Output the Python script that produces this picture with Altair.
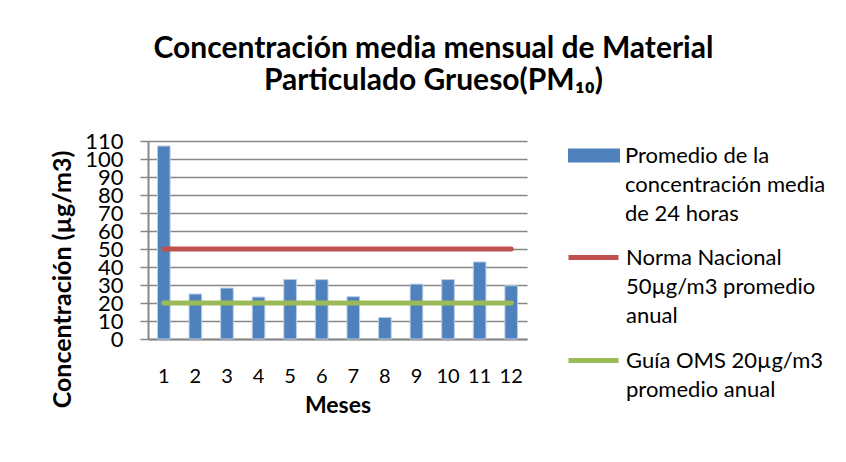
import altair as alt
import pandas as pd

months = ["1", "2", "3", "4", "5", "6", "7", "8", "9", "10", "11", "12"]
promedio = [107.2, 25.0, 28.3, 23.3, 33.1, 33.0, 23.5, 12.0, 30.5, 33.0, 42.8, 29.6]
norma = [50, 50, 50, 50, 50, 50, 50, 50, 50, 50, 50, 50]
guia = [20, 20, 20, 20, 20, 20, 20, 20, 20, 20, 20, 20]
y_ticks = [0, 10, 20, 30, 40, 50, 60, 70, 80, 90, 100, 110]

# legend label lines (one legend row per text line)
bar_lines = ["Promedio de la", "concentración media", "de 24  horas"]
norma_lines = ["Norma Nacional", "50µg/m3 promedio", "anual"]
guia_lines = ["Guía OMS 20µg/m3", "promedio anual"]

BLUE, RED, GREEN = "#4F81BD", "#C0504D", "#9BBB59"
NONE = "rgba(0,0,0,0)"

bars_df = pd.DataFrame({"mes": months, "valor": promedio, "serie": bar_lines[0]})
norma_df = pd.DataFrame({"mes": months, "valor": norma, "serie": norma_lines[0]})
guia_df = pd.DataFrame({"mes": months, "valor": guia, "serie": guia_lines[0]})

FONT = "Lato"
GRID = "#878787"

x_enc = alt.X(
    "mes:O", sort=months,
    scale=alt.Scale(paddingInner=0.6, paddingOuter=0.3),
    axis=alt.Axis(
        title="Meses", labelAngle=0, labelFont=FONT, labelFontSize=20, labelColor="black",
        labelPadding=27, ticks=False, domainColor=GRID, domainWidth=2,
        titleFont=FONT, titleFontSize=23, titleFontWeight="bold", titleColor="black",
        titlePadding=8,
    ),
)
y_enc = alt.Y(
    "valor:Q",
    scale=alt.Scale(domain=[0, 110], nice=False),
    axis=alt.Axis(
        values=y_ticks, title="Concentración (µg/m3)",
        labelFont=FONT, labelFontSize=22, labelColor="black", labelPadding=17,
        labelOverlap=False, labelFlush=False,
        tickSize=8, tickColor=GRID, tickWidth=1.5,
        domainColor=GRID, domainWidth=2,
        grid=True, gridColor=GRID, gridWidth=1.5,
        titleFont=FONT, titleFontSize=25, titleFontWeight="bold", titleColor="black",
        titleAngle=-90, titleBaseline="alphabetic", titleX=-78, titleY=138,
    ),
)


def legend(x, y, shape, size, stroke_w):
    return alt.Legend(
        title=None, orient="none", legendX=x, legendY=y,
        symbolType=shape, symbolSize=size, symbolStrokeWidth=stroke_w, symbolOpacity=1,
        labelFont=FONT, labelFontSize=22, labelColor="black", labelLimit=400,
        labelOffset=5, padding=0, rowPadding=0, clipHeight=29,
    )


bars = alt.Chart(bars_df).mark_bar(stroke="#B9CDE5", strokeWidth=1).encode(
    x=x_enc,
    y=y_enc,
    fill=alt.Fill(
        "serie:N",
        scale=alt.Scale(domain=bar_lines, range=[BLUE, NONE, NONE]),
        legend=legend(420, 0, "M-1,-0.27H1V0.27H-1Z", 2704, 0),
    ),
)

norma_line = alt.Chart(norma_df).mark_line(strokeWidth=5, strokeCap="round").encode(
    x=x_enc,
    y=y_enc,
    stroke=alt.Stroke(
        "serie:N",
        scale=alt.Scale(domain=norma_lines, range=[RED, NONE, NONE]),
        legend=legend(418, 102, "stroke", 2500, 5),
    ),
)

guia_line = alt.Chart(guia_df).mark_line(strokeWidth=5, strokeCap="round").encode(
    x=x_enc,
    y=y_enc,
    color=alt.Color(
        "serie:N",
        scale=alt.Scale(domain=guia_lines, range=[GREEN, NONE]),
        legend=legend(418, 205, "stroke", 2500, 5),
    ),
)

chart = alt.layer(bars, norma_line, guia_line).properties(
    width=379,
    height=198,
    autosize=alt.AutoSizeParams(type="none"),
    padding={"left": 140, "top": 133, "right": 310, "bottom": 114},
    background="white",
    title=alt.TitleParams(
        text=["Concentración media mensual de Material", "Particulado Grueso(PM₁₀)"],
        font=FONT, fontSize=30, fontWeight="bold", color="black",
        anchor="middle", frame="group", dx=96, offset=34, lineHeight=32,
    ),
).configure_view(stroke=None).configure_legend(symbolStrokeColor=None)

chart.save("out.html", embed_options={"renderer": "svg", "actions": False})
